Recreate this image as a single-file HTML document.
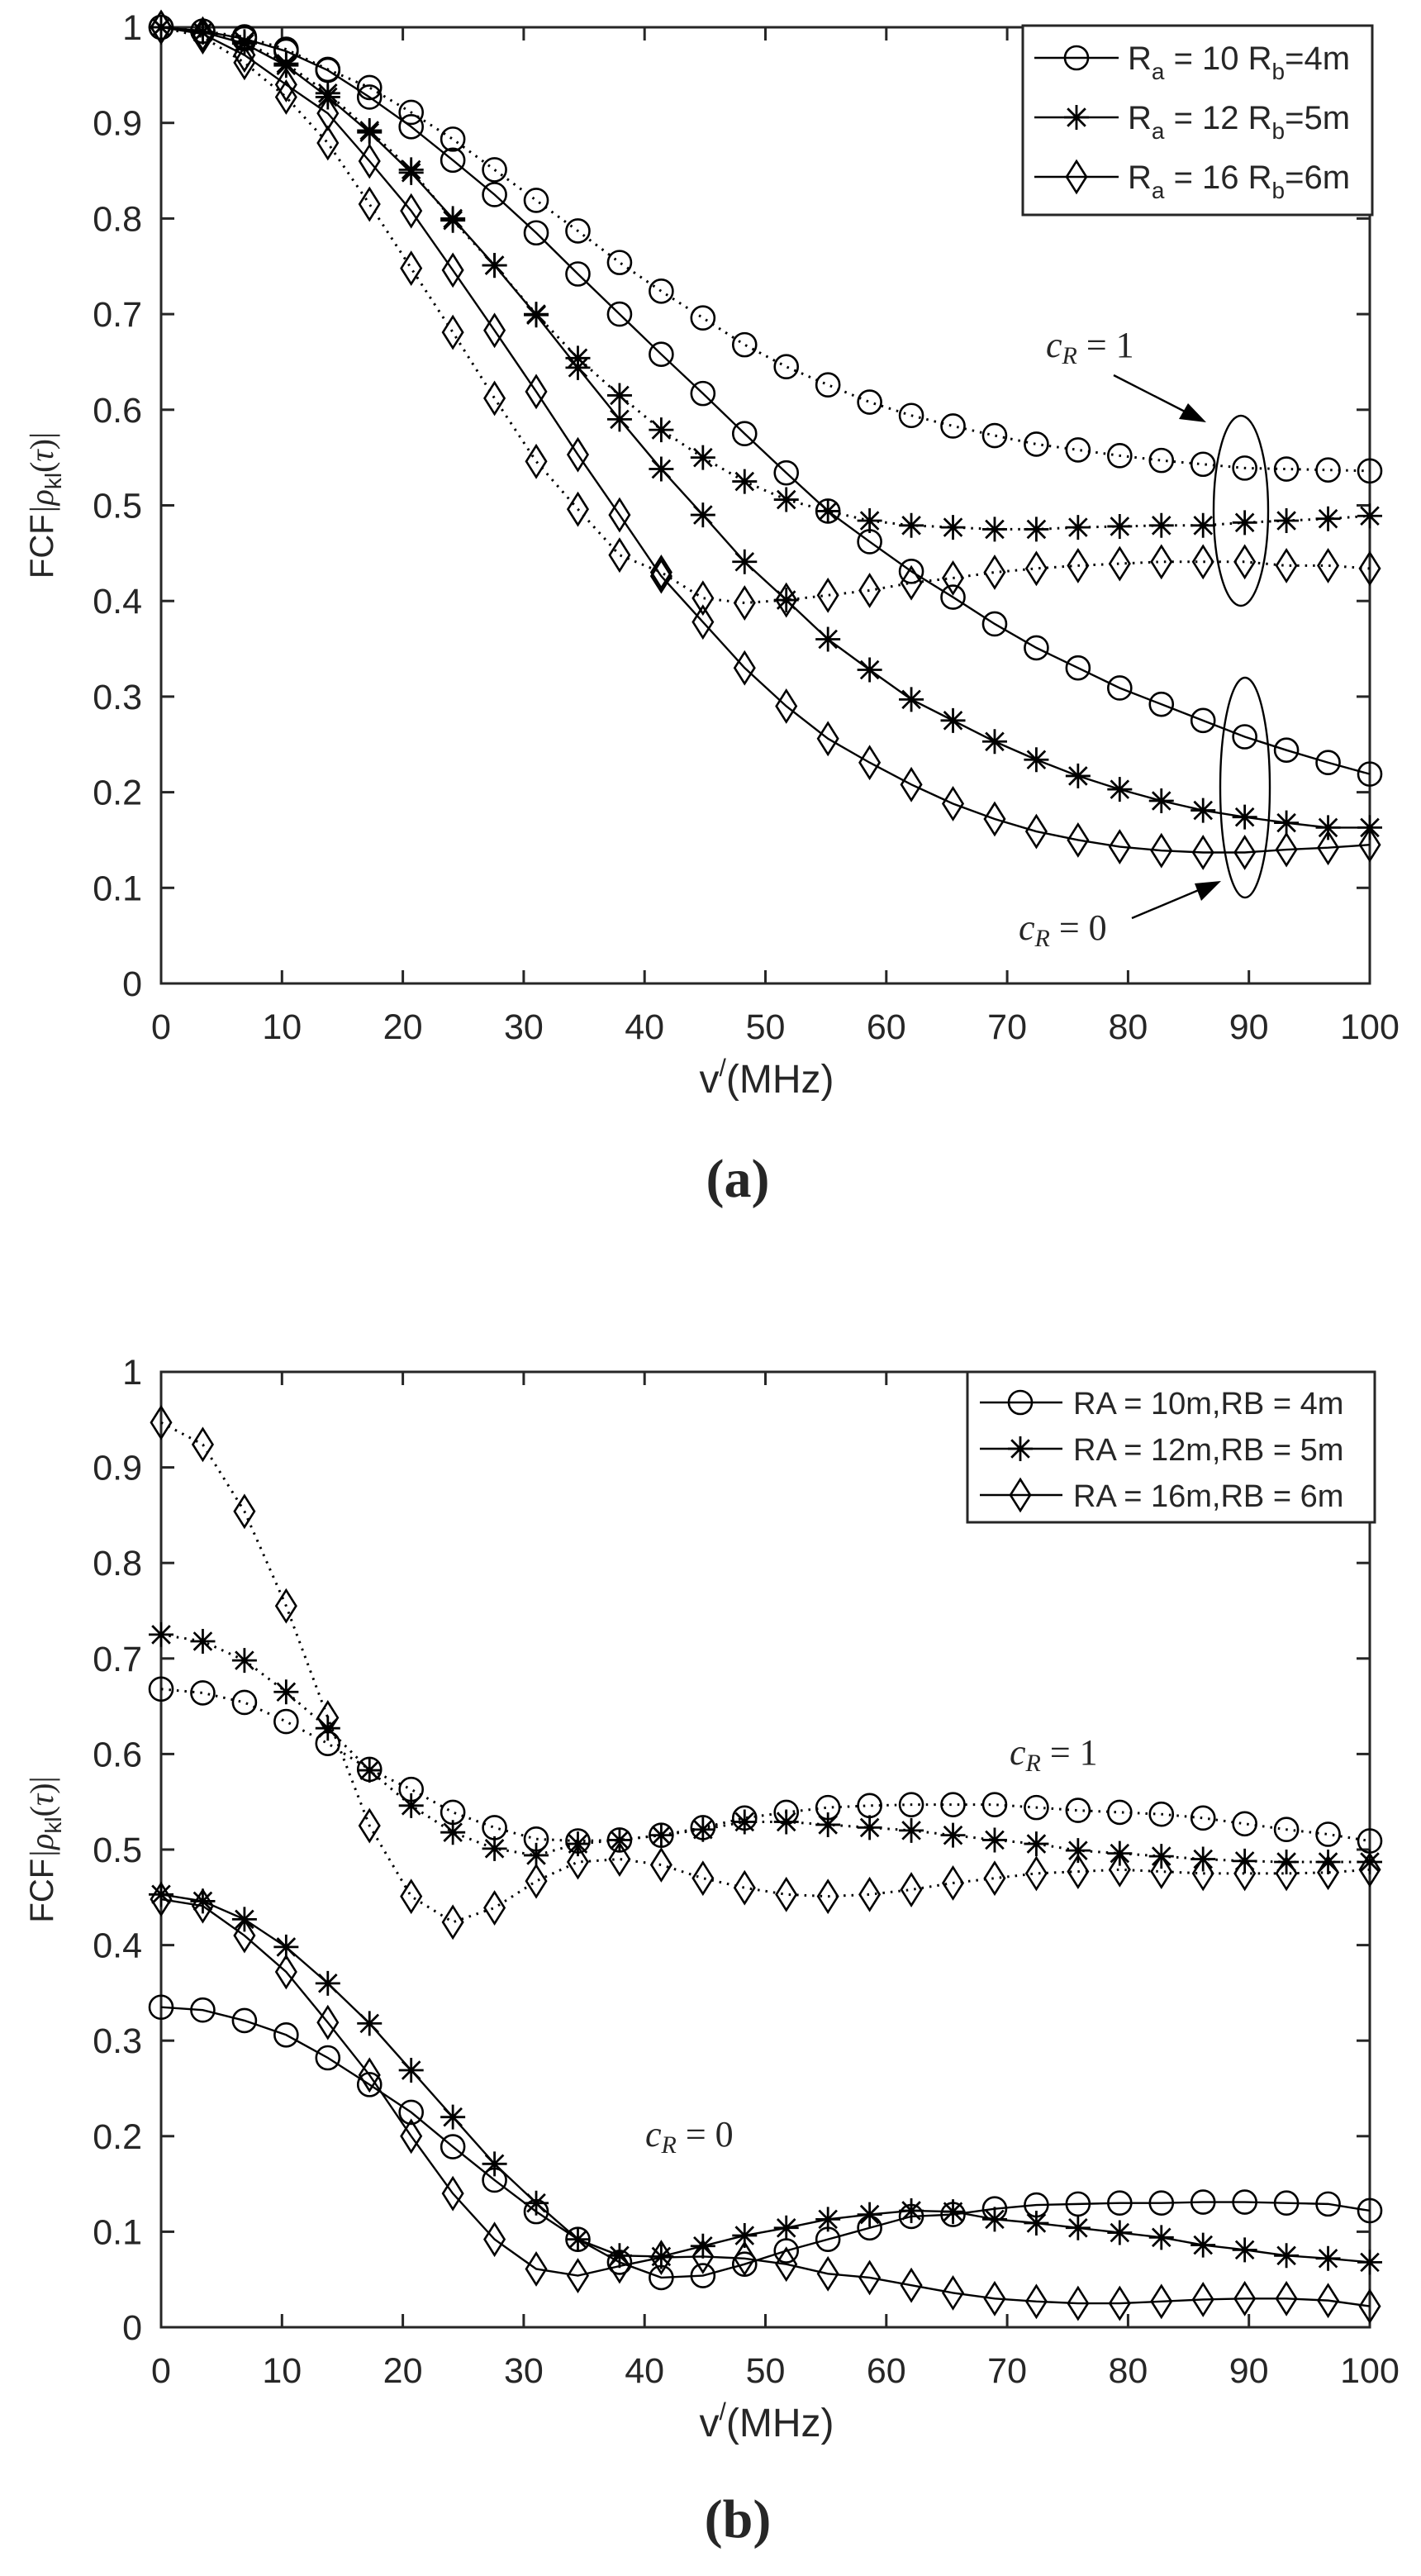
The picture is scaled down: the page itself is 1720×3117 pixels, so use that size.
<!DOCTYPE html>
<html><head><meta charset="utf-8"><style>
html,body{margin:0;padding:0;background:#fff;}
svg{display:block;}
text{font-family:"Liberation Sans",sans-serif;fill:#262626;}
.serif{font-family:"Liberation Serif",serif;}
</style></head><body>
<svg id="fig" width="1720" height="3117" viewBox="0 0 1720 3117" xmlns="http://www.w3.org/2000/svg">
<g id="panelA"></g>
<g id="panelB"></g>
</svg>
<script>
// ---- data ----
const xTicks = [0,10,20,30,40,50,60,70,80,90,100];
const yTicks = [0,0.1,0.2,0.3,0.4,0.5,0.6,0.7,0.8,0.9,1];
const yTickLabels = ["0","0.1","0.2","0.3","0.4","0.5","0.6","0.7","0.8","0.9","1"];
const nPoints = 30;
const freqs = Array.from({length:nPoints},(_,i)=>i*100/29);

// panel (a)
const aCircleSolid = [1,0.996,0.988,0.975,0.955,0.927,0.896,0.861,0.825,0.785,0.742,0.700,0.658,0.617,0.575,0.534,0.494,0.462,0.431,0.404,0.376,0.351,0.330,0.309,0.292,0.275,0.258,0.244,0.231,0.219];
const aCircleDot = [1,0.996,0.990,0.977,0.956,0.937,0.911,0.883,0.851,0.819,0.787,0.754,0.724,0.696,0.668,0.645,0.626,0.608,0.594,0.583,0.573,0.564,0.558,0.552,0.547,0.543,0.539,0.538,0.537,0.536];
const aStarSolid = [1,0.995,0.983,0.960,0.927,0.890,0.848,0.800,0.751,0.699,0.644,0.590,0.538,0.490,0.441,0.401,0.360,0.328,0.297,0.275,0.253,0.234,0.217,0.203,0.191,0.181,0.174,0.168,0.163,0.163];
const aStarDot = [1,0.995,0.985,0.962,0.931,0.892,0.851,0.798,0.751,0.700,0.654,0.615,0.579,0.550,0.525,0.506,0.494,0.484,0.479,0.477,0.475,0.475,0.477,0.478,0.479,0.479,0.482,0.484,0.486,0.489];
const aDiamSolid = [1,0.993,0.971,0.940,0.910,0.860,0.808,0.746,0.683,0.619,0.553,0.490,0.426,0.378,0.330,0.290,0.256,0.231,0.208,0.188,0.172,0.159,0.150,0.143,0.139,0.137,0.137,0.140,0.142,0.145];
const aDiamDot = [1,0.990,0.963,0.927,0.879,0.815,0.748,0.681,0.612,0.546,0.496,0.448,0.430,0.403,0.398,0.401,0.406,0.411,0.419,0.424,0.430,0.434,0.437,0.439,0.441,0.441,0.441,0.437,0.437,0.434];

// panel (b)
const bCircleSolid = [0.335,0.332,0.321,0.306,0.282,0.254,0.225,0.189,0.154,0.121,0.092,0.068,0.052,0.054,0.066,0.080,0.092,0.104,0.116,0.118,0.124,0.128,0.129,0.130,0.130,0.131,0.131,0.130,0.129,0.122];
const bCircleDot = [0.668,0.664,0.654,0.634,0.611,0.584,0.563,0.539,0.523,0.511,0.509,0.510,0.515,0.523,0.533,0.539,0.544,0.546,0.547,0.547,0.547,0.544,0.541,0.539,0.537,0.533,0.527,0.521,0.516,0.509];
const bStarSolid = [0.453,0.446,0.427,0.398,0.360,0.318,0.269,0.220,0.171,0.130,0.092,0.075,0.074,0.085,0.096,0.104,0.113,0.118,0.122,0.121,0.113,0.109,0.104,0.099,0.094,0.086,0.081,0.075,0.072,0.068];
const bStarDot = [0.725,0.718,0.698,0.665,0.627,0.583,0.546,0.518,0.501,0.494,0.506,0.510,0.515,0.521,0.529,0.529,0.526,0.523,0.520,0.515,0.510,0.506,0.499,0.496,0.493,0.490,0.488,0.487,0.487,0.487];
const bDiamSolid = [0.448,0.441,0.410,0.372,0.319,0.264,0.200,0.140,0.092,0.061,0.054,0.064,0.073,0.074,0.072,0.066,0.056,0.052,0.044,0.036,0.030,0.027,0.025,0.025,0.027,0.029,0.030,0.030,0.028,0.022];
const bDiamDot = [0.947,0.924,0.854,0.755,0.638,0.525,0.451,0.424,0.439,0.467,0.487,0.490,0.484,0.470,0.460,0.453,0.451,0.453,0.458,0.465,0.470,0.475,0.477,0.479,0.477,0.475,0.475,0.475,0.476,0.479];

const legendA = [["10","4"],["12","5"],["16","6"]];
const legendB = ["RA = 10m,RB = 4m","RA = 12m,RB = 5m","RA = 16m,RB = 6m"];

const NS = "http://www.w3.org/2000/svg";
const C = "#000";
function mk(tag, attrs, parent){
  const e = document.createElementNS(NS, tag);
  for (const k in attrs) e.setAttribute(k, attrs[k]);
  if (parent) parent.appendChild(e);
  return e;
}

function marker(g, type, cx, cy){
  let m;
  if (type === "circle"){
    m = mk("circle",{cx:cx,cy:cy,r:14,fill:"none",stroke:C,"stroke-width":2.6},g);
  } else if (type === "star"){
    const r = 15, d = r*0.72;
    m = mk("path",{d:`M${cx-r} ${cy}H${cx+r}M${cx} ${cy-r}V${cy+r}M${cx-d} ${cy-d}L${cx+d} ${cy+d}M${cx-d} ${cy+d}L${cx+d} ${cy-d}`,stroke:C,"stroke-width":2.8,fill:"none"},g);
  } else {
    m = mk("path",{d:`M${cx} ${cy-19}L${cx+12} ${cy}L${cx} ${cy+19}L${cx-12} ${cy}Z`,fill:"none",stroke:C,"stroke-width":2.6},g);
  }
  return m;
}

function panel(root, top, bottom, series, legendFn){
  const left = 195, right = 1658;
  const sx = v => left + (v/100)*(right-left);
  const sy = v => bottom - v*(bottom-top);
  const axes = mk("g",{},root);
  
  
  xTicks.forEach(t=>{
    const x = sx(t);
    mk("line",{x1:x,x2:x,y1:bottom,y2:bottom-16,stroke:"#262626","stroke-width":3},axes);
    mk("line",{x1:x,x2:x,y1:top,y2:top+16,stroke:"#262626","stroke-width":3},axes);
    const tl = mk("text",{x:x,y:bottom+67,"font-size":43,"text-anchor":"middle"},axes);
    tl.textContent = String(t);
    
    
  });
  yTicks.forEach((t,i)=>{
    const y = sy(t);
    mk("line",{x1:left,x2:left+16,y1:y,y2:y,stroke:"#262626","stroke-width":3},axes);
    mk("line",{x1:right,x2:right-16,y1:y,y2:y,stroke:"#262626","stroke-width":3},axes);
    const tl = mk("text",{x:172,y:y+15,"font-size":43,"text-anchor":"end"},axes);
    tl.textContent = yTickLabels[i];
    
    
  });
  const box = mk("rect",{x:left,y:top,width:right-left,height:bottom-top,fill:"none",stroke:"#262626","stroke-width":3},axes);
  
  

  series.forEach(s=>{
    const g = mk("g",{},root);
    
    
    const pts = s.vals.map((v,i)=>sx(freqs[i])+","+sy(v)).join(" ");
    const attrs = {points:pts,fill:"none",stroke:C,"stroke-width":2.4};
    if (s.dotted){ attrs["stroke-dasharray"]="2.5 7"; attrs["stroke-width"]=3; }
    mk("polyline",attrs,g);
    s.vals.forEach((v,i)=>marker(g,s.type,sx(freqs[i]),sy(v)));
  });

  const yl = mk("text",{transform:`translate(64 ${(top+bottom)/2}) rotate(-90)`,"font-size":40,"text-anchor":"middle"},root);
  
  
  yl.innerHTML = 'FCF<tspan class="serif" font-style="italic">|ρ</tspan><tspan font-size="28" dy="10">kl</tspan><tspan class="serif" dy="-10">(</tspan><tspan class="serif" font-style="italic">τ</tspan><tspan class="serif">)|</tspan>';
  const xl = mk("text",{x:928,y:bottom+132,"font-size":48,"text-anchor":"middle"},root);
  
  
  xl.innerHTML = 'v<tspan font-size="30" dy="-20">/</tspan><tspan dy="20">(MHz)</tspan>';
  legendFn(root);
  return {sx,sy};
}

function crText(root, x, y, val, name){
  const t = mk("text",{x:x,y:y,"font-size":44,class:"serif"},root);
  
  
  t.innerHTML = '<tspan font-style="italic">c</tspan><tspan font-style="italic" font-size="30" dy="8">R</tspan><tspan dy="-8"> = '+val+'</tspan>';
}

// ---- panel a ----
const A = document.getElementById("panelA");
panel(A, 33, 1190, [
  {name:"series-a-ra10-cr0", vals:aCircleSolid, type:"circle", dotted:false},
  {name:"series-a-ra10-cr1", vals:aCircleDot, type:"circle", dotted:true},
  {name:"series-a-ra12-cr0", vals:aStarSolid, type:"star", dotted:false},
  {name:"series-a-ra12-cr1", vals:aStarDot, type:"star", dotted:true},
  {name:"series-a-ra16-cr0", vals:aDiamSolid, type:"diamond", dotted:false},
  {name:"series-a-ra16-cr1", vals:aDiamDot, type:"diamond", dotted:true}
], root=>{
  const lg = mk("g",{},root);
  
  
  mk("rect",{x:1238,y:31,width:423,height:229,fill:"#fff",stroke:"#262626","stroke-width":3},lg);
  const types = ["circle","star","diamond"];
  legendA.forEach((r,i)=>{
    const y = 70 + i*72;
    const e = mk("g",{},lg);
    
    
    mk("line",{x1:1252,x2:1354,y1:y,y2:y,stroke:C,"stroke-width":2.4},e);
    marker(e, types[i], 1303, y);
    const t = mk("text",{x:1365,y:y+14,"font-size":40},e);
    t.innerHTML = 'R<tspan font-size="28" dy="12">a</tspan><tspan dy="-12"> = '+r[0]+' R</tspan><tspan font-size="28" dy="12">b</tspan><tspan dy="-12">='+r[1]+'m</tspan>';
  });
});
crText(A, 1266, 432, "1", "annotation-cr1");
crText(A, 1233, 1137, "0", "annotation-cr0");
const annA = mk("g",{},A);


mk("ellipse",{cx:1502,cy:618,rx:33,ry:115,fill:"none",stroke:C,"stroke-width":2.4},annA);
mk("ellipse",{cx:1507,cy:953,rx:30,ry:133,fill:"none",stroke:C,"stroke-width":2.4},annA);
mk("line",{x1:1348,y1:454,x2:1440,y2:501,stroke:C,"stroke-width":2.4},annA);
mk("path",{d:"M1460 511 L1427 507 L1438 488 Z",fill:C},annA);
mk("line",{x1:1370,y1:1111,x2:1458,y2:1074,stroke:C,"stroke-width":2.4},annA);
mk("path",{d:"M1478 1066 L1454 1090 L1446 1069 Z",fill:C},annA);

// ---- panel b ----
const B = document.getElementById("panelB");
panel(B, 1660, 2816, [
  {name:"series-b-ra10-cr0", vals:bCircleSolid, type:"circle", dotted:false},
  {name:"series-b-ra10-cr1", vals:bCircleDot, type:"circle", dotted:true},
  {name:"series-b-ra12-cr0", vals:bStarSolid, type:"star", dotted:false},
  {name:"series-b-ra12-cr1", vals:bStarDot, type:"star", dotted:true},
  {name:"series-b-ra16-cr0", vals:bDiamSolid, type:"diamond", dotted:false},
  {name:"series-b-ra16-cr1", vals:bDiamDot, type:"diamond", dotted:true}
], root=>{
  const lg = mk("g",{},root);
  
  
  mk("rect",{x:1171,y:1660,width:493,height:182,fill:"#fff",stroke:"#262626","stroke-width":3},lg);
  const types = ["circle","star","diamond"];
  legendB.forEach((s,i)=>{
    const y = 1697 + i*56;
    const e = mk("g",{},lg);
    
    
    mk("line",{x1:1186,x2:1286,y1:y,y2:y,stroke:C,"stroke-width":2.4},e);
    marker(e, types[i], 1235, y);
    const t = mk("text",{x:1299,y:y+14,"font-size":38},e);
    t.textContent = s;
  });
});
crText(B, 1222, 2135, "1", "annotation-cr1");
crText(B, 781, 2597, "0", "annotation-cr0");

// captions
const capA = mk("text",{x:893,y:1448,"font-size":66,"font-weight":"bold",class:"serif","text-anchor":"middle"},document.getElementById("fig"));
capA.textContent = "(a)";


const capB = mk("text",{x:893,y:3070,"font-size":66,"font-weight":"bold",class:"serif","text-anchor":"middle"},document.getElementById("fig"));
capB.textContent = "(b)";


</script>
</body></html>
